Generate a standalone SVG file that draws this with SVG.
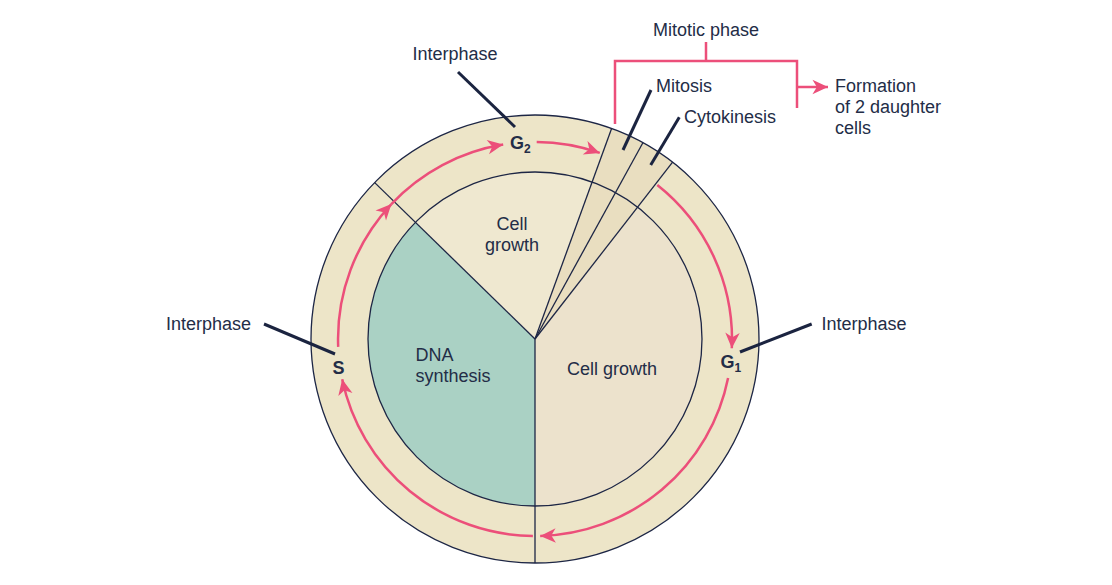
<svg xmlns="http://www.w3.org/2000/svg" width="1112" height="585" viewBox="0 0 1112 585">
<defs>
<style>
.t{font-family:"Liberation Sans",Arial,sans-serif;font-size:18px;fill:#232d47}
.b{font-family:"Liberation Sans",Arial,sans-serif;font-size:18px;font-weight:bold;fill:#232d47}
.sub{font-size:12px}
.edge{fill:none;stroke:#1d2645;stroke-width:1.3}
.ptr{fill:none;stroke:#1b2440;stroke-width:3}
.red{fill:none;stroke:#ec4f7a;stroke-width:2.5}
.redA{fill:none;stroke:#ec4f7a;stroke-width:2.5;marker-end:url(#ah)}
</style>
<marker id="ah" markerUnits="userSpaceOnUse" markerWidth="20" markerHeight="20" viewBox="-16 -8 18 16" refX="0" refY="0" orient="auto">
<path d="M0,0 L-14,-6.5 L-10,0 L-14,6.5 Z" fill="#ec4f7a"/>
</marker>
</defs>
<rect width="1112" height="585" fill="#ffffff"/>

<g id="cycle">
<circle cx="535" cy="339" r="224" fill="#ede5c8"/>
<circle cx="535" cy="339" r="167" fill="#efe8d0"/>
<path d="M535,339 L637.6,207.2 A167,167 0 0 1 535,506 Z" fill="#ece2cc"/>
<path d="M535,339 L535,506 A167,167 0 0 1 415.5,222.4 Z" fill="#aad1c4"/>
<path d="M535,339 L611.6,128.5 A224,224 0 0 1 672.6,162.2 Z" fill="#e9dec0"/>
<circle class="edge" cx="535" cy="339" r="167"/>
<circle class="edge" cx="535" cy="339" r="224"/>
<line class="edge" x1="535" y1="339" x2="535" y2="563"/>
<line class="edge" x1="535" y1="339" x2="374.7" y2="182.6"/>
<line class="edge" x1="535" y1="339" x2="611.6" y2="128.5"/>
<line class="edge" x1="535" y1="339" x2="642.9" y2="142.7"/>
<line class="edge" x1="535" y1="339" x2="672.6" y2="162.2"/>
</g>

<g id="connectors">
<path class="redA" d="M536.7,142 A197,197 0 0 1 599.8,152.9"/>
<path class="redA" d="M657.3,185 A197,197 0 0 1 731.8,348.3"/>
<path class="redA" d="M728.1,377.9 A197,197 0 0 1 540.2,535.9"/>
<path class="redA" d="M532.9,536 A197,197 0 0 1 342.2,379.3"/>
<path class="redA" d="M338.2,346.9 A197,197 0 0 1 391.4,204.1"/>
<path class="redA" d="M391.4,204.1 A197,197 0 0 1 503.2,144.6"/>
<line class="ptr" x1="458" y1="72" x2="515" y2="127"/>
<line class="ptr" x1="264" y1="324" x2="335" y2="354"/>
<line class="ptr" x1="740" y1="352" x2="811.7" y2="324"/>
<line class="ptr" x1="651" y1="90" x2="623" y2="150"/>
<line class="ptr" x1="679.3" y1="117.3" x2="650.7" y2="165"/>
<path class="red" d="M615,124 L615,61 L797,61 L797,108 M706,61 L706,42"/>
<path class="redA" d="M797,87 L828,87"/>
</g>

<g id="labels">
<text class="b" x="510" y="149">G<tspan class="sub" dy="4">2</tspan></text>
<text class="b" x="720.5" y="368">G<tspan class="sub" dy="4">1</tspan></text>
<text class="b" x="332.5" y="374">S</text>
<text class="t" x="455" y="60" text-anchor="middle">Interphase</text>
<text class="t" x="166" y="330">Interphase</text>
<text class="t" x="821.5" y="330">Interphase</text>
<text class="t" x="706" y="36" text-anchor="middle">Mitotic phase</text>
<text class="t" x="656" y="92">Mitosis</text>
<text class="t" x="684" y="123">Cytokinesis</text>
<text class="t" x="835" y="92">Formation</text>
<text class="t" x="835" y="113">of 2 daughter</text>
<text class="t" x="835" y="134">cells</text>
<text class="t" x="512" y="230" text-anchor="middle">Cell</text>
<text class="t" x="512" y="251" text-anchor="middle">growth</text>
<text class="t" x="415.5" y="361">DNA</text>
<text class="t" x="415.5" y="382">synthesis</text>
<text class="t" x="612" y="375" text-anchor="middle">Cell growth</text>
</g>
</svg>
